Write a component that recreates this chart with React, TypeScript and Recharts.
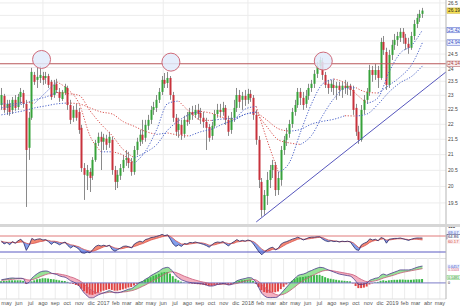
import {
  ComposedChart, Bar, Line, Area, XAxis, YAxis, CartesianGrid, ReferenceLine, ReferenceDot, Cell,
} from 'recharts'

// weekly candles [open, high, low, close], weeks of 2016-04-18 .. 2019-03-18
const candles: [number, number, number, number][] = [
  [22.66, 23.26, 22.49, 23.01], [22.98, 23.05, 22.39, 22.49], [22.56, 22.84, 22.32, 22.70], [22.70, 22.84, 22.29, 22.42],
  [22.49, 22.94, 22.35, 22.84], [22.84, 23.01, 22.46, 22.56], [22.59, 23.05, 22.49, 22.94], [22.94, 23.26, 22.70, 23.12],
  [23.08, 23.19, 22.56, 22.70], [22.70, 22.84, 19.38, 21.15], [21.22, 22.42, 20.83, 22.22], [22.22, 23.99, 22.15, 23.84],
  [23.73, 23.84, 23.37, 23.48], [23.55, 23.99, 23.26, 23.66], [23.62, 24.06, 23.44, 23.73], [23.69, 23.84, 23.37, 23.55],
  [23.62, 23.84, 23.41, 23.69], [23.69, 23.77, 23.26, 23.37], [23.48, 23.55, 22.84, 22.94], [23.01, 23.55, 22.91, 23.37],
  [23.41, 23.59, 23.08, 23.19], [23.12, 23.26, 22.77, 22.91], [22.87, 23.19, 22.80, 23.12], [23.08, 23.41, 23.01, 23.30],
  [23.26, 23.34, 22.49, 22.66], [22.66, 22.84, 22.01, 22.15], [22.22, 22.63, 22.08, 22.49], [22.49, 22.70, 22.12, 22.22],
  [22.42, 22.56, 21.68, 21.81], [21.88, 21.98, 20.45, 20.57], [20.57, 20.73, 19.59, 20.36], [20.33, 20.67, 19.89, 20.51],
  [20.45, 20.57, 19.83, 20.26], [20.33, 20.92, 20.20, 20.83], [20.83, 21.48, 20.77, 21.38], [21.38, 21.72, 21.28, 21.58],
  [21.58, 21.75, 20.51, 21.42], [21.42, 21.68, 21.15, 21.55], [21.52, 21.65, 21.15, 21.32], [21.38, 21.75, 21.22, 21.58],
  [21.48, 21.58, 20.36, 20.51], [20.51, 20.64, 19.89, 20.14], [20.14, 20.51, 19.95, 20.36], [20.33, 20.70, 20.20, 20.57],
  [20.57, 20.99, 20.45, 20.83], [20.83, 21.15, 20.64, 20.89], [20.89, 21.09, 20.57, 20.73], [20.77, 20.89, 20.33, 20.45],
  [20.45, 21.28, 20.36, 21.15], [21.15, 21.55, 20.99, 21.42], [21.42, 21.81, 21.28, 21.65], [21.65, 22.15, 21.35, 21.48],
  [21.55, 22.15, 21.42, 21.98], [21.95, 22.32, 21.81, 22.15], [22.15, 22.63, 22.01, 22.49], [22.49, 22.77, 22.32, 22.59],
  [22.56, 23.01, 22.42, 22.84], [22.84, 23.26, 22.73, 23.12], [23.12, 23.69, 23.01, 23.55], [23.55, 23.80, 23.26, 23.41],
  [23.44, 23.84, 23.26, 23.62], [23.62, 23.69, 22.84, 23.01], [23.01, 23.12, 22.08, 22.22], [22.22, 22.35, 21.61, 21.75],
  [21.81, 22.22, 21.55, 22.01], [21.98, 22.15, 21.48, 21.65], [21.68, 22.29, 21.55, 22.15], [22.15, 22.42, 21.95, 22.08],
  [22.15, 22.56, 22.01, 22.42], [22.42, 22.63, 22.15, 22.32], [22.32, 22.66, 22.22, 22.49], [22.49, 22.70, 22.15, 22.35],
  [22.39, 22.56, 22.01, 22.22], [22.22, 22.42, 21.88, 22.08], [22.08, 22.22, 21.15, 21.88], [21.91, 22.01, 21.42, 21.55],
  [21.61, 22.08, 21.48, 21.95], [21.95, 22.49, 21.88, 22.35], [22.35, 22.70, 22.22, 22.49], [22.49, 22.70, 22.22, 22.42],
  [22.42, 22.77, 22.29, 22.56], [22.56, 22.66, 21.98, 22.15], [22.15, 22.29, 21.61, 21.75], [21.81, 22.42, 21.68, 22.22],
  [22.22, 22.84, 22.08, 22.56], [22.56, 23.26, 22.42, 23.01], [23.01, 23.19, 22.56, 22.77], [22.84, 23.12, 22.49, 22.98],
  [22.98, 23.19, 22.63, 22.84], [22.84, 23.23, 22.70, 23.05], [23.05, 23.19, 22.77, 22.91], [22.91, 23.01, 22.15, 22.32],
  [22.32, 22.49, 21.32, 21.48], [21.48, 21.61, 19.95, 20.20], [20.14, 20.26, 19.09, 19.29], [19.29, 19.89, 19.15, 19.74],
  [19.71, 20.45, 19.44, 20.20], [20.20, 20.67, 19.95, 20.51], [20.51, 20.83, 20.26, 20.67], [20.67, 20.77, 19.71, 19.89],
  [19.89, 20.45, 19.74, 20.26], [20.20, 21.28, 20.02, 21.15], [21.15, 21.61, 20.99, 21.48], [21.48, 21.88, 21.28, 21.68],
  [21.68, 22.15, 21.55, 22.01], [22.01, 22.56, 21.88, 22.42], [22.42, 22.84, 22.29, 22.66], [22.66, 23.26, 22.56, 23.12],
  [23.12, 23.26, 22.66, 22.91], [22.91, 23.12, 22.49, 22.66], [22.70, 23.19, 22.56, 22.98], [22.98, 23.41, 22.84, 23.26],
  [23.26, 23.55, 23.12, 23.41], [23.41, 23.91, 23.26, 23.77], [23.77, 24.21, 23.62, 24.06], [24.06, 24.40, 23.91, 24.28],
  [24.21, 24.36, 23.55, 23.73], [23.73, 23.84, 23.26, 23.37], [23.41, 23.55, 23.05, 23.26], [23.26, 23.55, 23.12, 23.41],
  [23.37, 23.55, 23.01, 23.26], [23.26, 23.48, 22.84, 23.34], [23.34, 23.48, 22.98, 23.19], [23.19, 23.48, 22.91, 23.34],
  [23.34, 23.55, 23.05, 23.26], [23.26, 23.48, 23.01, 23.34], [23.34, 23.41, 22.98, 23.19], [23.19, 23.34, 22.32, 22.49],
  [22.56, 22.70, 21.61, 21.75], [21.75, 21.95, 21.35, 21.48], [21.48, 22.66, 21.42, 22.49], [22.49, 23.01, 22.35, 22.84],
  [22.84, 23.26, 22.70, 23.12], [23.12, 24.10, 22.98, 23.91], [23.91, 24.06, 23.48, 23.73], [23.73, 24.13, 23.55, 23.91],
  [23.91, 24.06, 23.26, 23.62], [23.62, 25.12, 23.55, 24.96], [24.96, 25.19, 24.47, 24.66], [24.58, 24.74, 23.19, 23.37],
  [23.37, 24.66, 23.26, 24.47], [24.47, 25.04, 24.28, 24.85], [24.85, 25.27, 24.66, 25.04], [25.04, 25.35, 24.81, 25.19],
  [25.12, 25.50, 24.96, 25.35], [25.35, 25.50, 24.89, 25.12], [25.12, 25.27, 24.66, 24.89], [24.89, 25.12, 24.51, 24.74],
  [24.74, 25.35, 24.66, 25.19], [25.19, 25.82, 25.04, 25.66], [25.66, 26.06, 25.50, 25.90], [25.90, 26.22, 25.74, 26.06],
  [26.06, 26.30, 25.90, 26.19],
]

// moving averages read every 4 weeks (week 0, 4, 8 ... 152)
const maFast = [
  22.70, 22.70, 22.77, 22.72, 23.10, 23.48, 23.21, 22.72, 21.61, 21.09, 21.09, 20.98, 20.72, 21.11, 21.81, 22.71,
  22.80, 22.42, 22.14, 22.13, 22.18, 22.20, 22.52, 22.61, 21.45, 20.44, 20.75, 21.74, 22.71, 23.41, 23.58, 23.44,
  23.05, 22.72, 22.92, 23.85, 24.54, 24.82, 25.42,
]
const maMid = [
  22.56, 22.63, 22.70, 22.84, 22.94, 23.10, 23.06, 23.00, 22.46, 22.00, 21.62, 21.16, 20.90, 21.07, 21.32, 21.80,
  22.12, 22.34, 22.44, 22.37, 22.23, 22.17, 22.34, 22.40, 21.90, 21.48, 21.38, 21.33, 21.63, 22.30, 22.88, 23.25,
  23.27, 23.11, 23.08, 23.36, 23.66, 24.09, 24.94,
]
const maSlow = [
  22.32, 22.39, 22.46, 22.56, 22.63, 22.70, 22.73, 22.70, 22.56, 22.42, 22.35, 22.09, 21.93, 21.76, 21.66, 21.71,
  21.64, 21.61, 21.75, 21.84, 22.01, 22.14, 22.34, 22.42, 22.13, 21.85, 21.77, 21.83, 22.01, 22.10, 22.17, 22.29,
  22.28, 22.35, 22.69, 23.12, 23.45, 23.67, 24.06,
]

const rsi = [
  58, 50, 54, 48, 56, 52, 58, 62, 54, 34, 46, 64, 60, 62, 63, 60, 61, 56,
  49, 55, 52, 48, 52, 55, 46, 40, 45, 42, 37, 28, 27, 30, 28, 36, 44, 47,
  45, 47, 44, 47, 36, 32, 36, 40, 44, 45, 43, 40, 50, 54, 57, 55, 61, 63,
  66, 67, 69, 71, 74, 71, 73, 62, 50, 44, 48, 44, 51, 50, 54, 53, 55, 53,
  51, 49, 46, 42, 48, 53, 55, 54, 56, 50, 45, 52, 56, 61, 57, 59, 57, 60,
  58, 50, 40, 30, 23, 30, 36, 40, 42, 35, 40, 50, 54, 56, 59, 62, 64, 67,
  64, 60, 63, 66, 67, 67, 68, 68, 62, 58, 56, 58, 56, 57, 55, 57, 56, 57,
  55, 45, 36, 34, 48, 52, 55, 63, 60, 62, 58, 66, 64, 52, 62, 63, 64, 64,
  65, 63, 61, 59, 62, 64, 65, 65, 64.86,
]
const rsiSignal = [
  55, 55, 54, 54, 54, 53, 54, 55, 55, 52, 50, 51, 52, 54, 56, 57, 59, 59,
  57, 57, 56, 54, 53, 53, 51, 48, 47, 45, 43, 39, 36, 34, 32, 32, 34, 37,
  40, 43, 45, 46, 43, 40, 39, 38, 39, 41, 42, 42, 44, 46, 49, 51, 54, 57,
  60, 62, 64, 66, 68, 70, 71, 69, 64, 58, 54, 50, 49, 49, 50, 51, 52, 53,
  53, 52, 50, 47, 47, 48, 50, 52, 53, 53, 51, 51, 52, 55, 56, 57, 57, 58,
  58, 56, 51, 44, 37, 33, 32, 34, 37, 37, 38, 42, 46, 50, 53, 56, 59, 62,
  63, 62, 62, 63, 64, 65, 66, 67, 66, 63, 60, 59, 58, 57, 56, 56, 56, 56,
  56, 53, 47, 41, 42, 45, 49, 54, 57, 59, 59, 62, 63, 60, 60, 61, 62, 63,
  63, 63, 62, 61, 61, 62, 62, 61, 60.17,
]

const macd = [
  0.12, 0.14, 0.16, 0.18, 0.19, 0.18, 0.18, 0.18, 0.16, -0.02, 0.02, 0.18, 0.28, 0.36, 0.42, 0.45, 0.46, 0.44,
  0.38, 0.35, 0.32, 0.27, 0.24, 0.22, 0.16, 0.08, 0.04, -0.02, -0.1, -0.26, -0.4, -0.5, -0.58, -0.58, -0.52, -0.46,
  -0.42, -0.38, -0.34, -0.3, -0.34, -0.38, -0.38, -0.36, -0.32, -0.28, -0.24, -0.22, -0.14, -0.06, 0.02, 0.06, 0.14, 0.2,
  0.28, 0.34, 0.4, 0.46, 0.54, 0.58, 0.6, 0.54, 0.42, 0.28, 0.2, 0.12, 0.08, 0.04, 0.02, 0, -0.01, -0.02,
  -0.03, -0.05, -0.08, -0.12, -0.12, -0.1, -0.06, -0.04, -0.02, -0.04, -0.08, -0.06, 0, 0.08, 0.12, 0.15, 0.17, 0.2,
  0.2, 0.14, 0, -0.2, -0.4, -0.5, -0.56, -0.57, -0.56, -0.56, -0.52, -0.4, -0.28, -0.16, -0.04, 0.08, 0.18, 0.28,
  0.32, 0.34, 0.38, 0.44, 0.48, 0.53, 0.57, 0.6, 0.59, 0.55, 0.5, 0.46, 0.42, 0.38, 0.34, 0.32, 0.3, 0.28,
  0.26, 0.18, 0.06, -0.06, -0.06, -0.04, 0, 0.1, 0.14, 0.18, 0.2, 0.3, 0.34, 0.3, 0.34, 0.38, 0.42, 0.46,
  0.5, 0.5, 0.5, 0.5, 0.52, 0.56, 0.6, 0.63, 0.65,
]
const macdSignal = [
  0.1, 0.11, 0.12, 0.13, 0.14, 0.15, 0.16, 0.16, 0.16, 0.13, 0.11, 0.12, 0.15, 0.19, 0.24, 0.28, 0.32, 0.35,
  0.36, 0.36, 0.36, 0.34, 0.32, 0.3, 0.27, 0.23, 0.2, 0.15, 0.1, 0.03, -0.06, -0.15, -0.24, -0.31, -0.36, -0.38,
  -0.39, -0.39, -0.38, -0.36, -0.36, -0.36, -0.36, -0.36, -0.35, -0.34, -0.32, -0.3, -0.27, -0.23, -0.18, -0.13, -0.08, -0.02,
  0.04, 0.1, 0.16, 0.22, 0.28, 0.34, 0.39, 0.42, 0.42, 0.4, 0.36, 0.31, 0.26, 0.22, 0.18, 0.14, 0.11, 0.08,
  0.05, 0.03, 0.01, -0.02, -0.04, -0.05, -0.06, -0.06, -0.05, -0.05, -0.05, -0.05, -0.04, -0.02, 0.01, 0.04, 0.07, 0.1,
  0.12, 0.13, 0.11, 0.04, -0.06, -0.16, -0.25, -0.33, -0.39, -0.44, -0.47, -0.46, -0.43, -0.38, -0.31, -0.23, -0.15, -0.06,
  0.02, 0.09, 0.15, 0.21, 0.27, 0.32, 0.37, 0.42, 0.46, 0.48, 0.49, 0.48, 0.46, 0.44, 0.42, 0.4, 0.38, 0.36,
  0.34, 0.31, 0.26, 0.19, 0.13, 0.08, 0.05, 0.05, 0.06, 0.08, 0.11, 0.15, 0.19, 0.22, 0.25, 0.28, 0.31, 0.35,
  0.38, 0.41, 0.43, 0.45, 0.47, 0.49, 0.51, 0.53, 0.55,
]
const macdHist = [
  0.06, 0.08, 0.08, 0.1, 0.1, 0.1, 0.1, 0.1, 0.08, -0.04, 0, 0.06, 0.1, 0.14, 0.16, 0.18, 0.18, 0.17,
  0.15, 0.14, 0.12, 0.1, 0.08, 0.07, 0.04, -0.02, -0.04, -0.08, -0.12, -0.22, -0.32, -0.4, -0.45, -0.46, -0.42, -0.38,
  -0.34, -0.3, -0.27, -0.24, -0.27, -0.3, -0.3, -0.28, -0.25, -0.22, -0.18, -0.16, -0.1, -0.04, 0.02, 0.06, 0.12, 0.17,
  0.22, 0.27, 0.31, 0.35, 0.4, 0.42, 0.42, 0.36, 0.26, 0.16, 0.1, 0.05, 0.02, 0, -0.02, -0.03, -0.04, -0.05,
  -0.06, -0.07, -0.09, -0.11, -0.11, -0.09, -0.07, -0.05, -0.04, -0.05, -0.07, -0.05, 0.02, 0.06, 0.08, 0.1, 0.11, 0.12,
  0.12, 0.08, -0.04, -0.16, -0.28, -0.35, -0.38, -0.38, -0.37, -0.36, -0.33, -0.24, -0.15, -0.06, 0.02, 0.08, 0.14, 0.2,
  0.22, 0.23, 0.25, 0.27, 0.29, 0.3, 0.31, 0.31, 0.27, 0.22, 0.18, 0.16, 0.14, 0.12, 0.1, 0.09, 0.08, 0.07,
  0.06, -0.02, -0.12, -0.2, -0.2, -0.18, -0.14, -0.06, -0.02, 0.02, 0.04, 0.08, 0.1, 0.08, 0.1, 0.11, 0.12, 0.12,
  0.13, 0.13, 0.12, 0.12, 0.12, 0.13, 0.14, 0.14, 0.15,
]

const monthLabels = [
  'may', 'jun', 'jul', 'ago', 'sep', 'oct', 'nov', 'dic', '2017', 'feb', 'mar', 'abr',
  'may', 'jun', 'jul', 'ago', 'sep', 'oct', 'nov', 'dic', '2018', 'feb', 'mar', 'abr',
  'may', 'jun', 'jul', 'ago', 'sep', 'oct', 'nov', 'dic', '2019', 'feb', 'mar', 'abr', 'may',
]
const priceTicks = [19.5, 20, 20.5, 21, 21.5, 22, 22.5, 23, 23.5, 24, 24.5, 25, 25.5, 26, 26.5]
// ticks whose text sits under a value tag in the reference
const hiddenTicks = [25, 25.5, 26]
const resistance = 24.14
// tops marked with circles: [week, price]
const peaks: [number, number][] = [[14.5, 24.3], [61.2, 24.2], [116.2, 24.24]]
// support line from the 2018 low: [week, price]
const trend: [number, number][] = [[92, 18.94], [160.5, 23.84]]

const priceTags = [
  { v: 26.19, fg: '#222', bg: '#f5df52', bd: '#c9b13c', dy: 0 },
  { v: 25.42, fg: '#3a52c4', bg: '#f2f5ff', bd: '#3a52c4', dy: 0 },
  { v: 24.94, fg: '#3a52c4', bg: '#f2f5ff', bd: '#3a52c4', dy: 0 },
  { v: resistance, fg: '#a84444', bg: '#fbeeee', bd: '#a84444', dy: 0 },
]
const rsiTags = [
  { v: 100, fg: '#222', bg: '', bd: '', dy: 3 },
  { v: 69.07, fg: '#3a52c4', bg: '#eef2ff', bd: '', dy: -3.9 },
  { v: 64.86, fg: '#22225e', bg: '#ffffff', bd: '#22225e', dy: -1.1 },
  { v: 60.17, fg: '#d04a4a', bg: '#fdeeee', bd: '', dy: 1.5 },
]
const macdTags = [
  { v: 0.6457, fg: '#3a52c4', bg: '#eef2ff', bd: '', dy: 0.3 },
  { v: 0.5503, fg: '#d04a6a', bg: '', bd: '', dy: 1.6 },
  { v: 0.1481, fg: '#2f8f2f', bg: '#e6f8e6', bd: '#7acc7a', dy: -1.5 },
  { v: 0, fg: '#222', bg: '', bd: '', dy: 0 },
]

const GREEN = '#37a23a'
const RED = '#c8323c'
const MA_UP = '#4a62c8'
const MA_DN = '#d9534f'
const GRID = '#ececec'
const X_DOMAIN: [number, number] = [-0.5, 160.5]
const AXIS_W = 14

const START = Date.UTC(2016, 3, 18)
const WEEK_MS = 7 * 864e5
const monthTicks = monthLabels.map((_, k) => (Date.UTC(2016, 4 + k, 1) - START) / WEEK_MS)

const pair = (a: number, b: number) => (a >= b ? [b, a] : [b, b])

const rows = candles.map(([o, h, l, c], i) => ({
  i, o, h, l, c,
  range: [l, h],
  fast: i % 4 === 0 ? maFast[i / 4] : null,
  mid: i % 4 === 0 ? maMid[i / 4] : null,
  slow: i % 4 === 0 ? maSlow[i / 4] : null,
  rsi: rsi[i],
  rsiSig: rsiSignal[i],
  rsiUp: pair(rsi[i], rsiSignal[i]),
  rsiDn: rsi[i] < rsiSignal[i] ? [rsi[i], rsiSignal[i]] : [rsiSignal[i], rsiSignal[i]],
  macd: macd[i],
  sig: macdSignal[i],
  hist: macdHist[i],
  mUp: pair(macd[i], macdSignal[i]),
  mDn: macd[i] < macdSignal[i] ? [macd[i], macdSignal[i]] : [macdSignal[i], macdSignal[i]],
}))

// split each average into rising (blue) / falling (red) stretches
type Run = { key: 'fast' | 'mid' | 'slow'; a: number; b: number; up: boolean }
function runsOf(key: Run['key'], vals: number[]): Run[] {
  const out: Run[] = []
  for (let k = 0; k < vals.length - 1; k++) {
    const up = vals[k + 1] >= vals[k]
    const last = out[out.length - 1]
    if (last && last.up === up) last.b = (k + 1) * 4
    else out.push({ key, a: k * 4, b: (k + 1) * 4, up })
  }
  return out
}
const maRuns = [...runsOf('slow', maSlow), ...runsOf('mid', maMid), ...runsOf('fast', maFast)]

function Candle(props: any) {
  const { x, y, width, height, payload } = props
  if (!payload || !Number.isFinite(y) || !Number.isFinite(height)) return null
  const top = Math.min(y, y + height)
  const bot = Math.max(y, y + height)
  const span = Math.log(payload.h) - Math.log(payload.l)
  const at = (v: number) => (span > 0 ? top + ((bot - top) * (Math.log(payload.h) - Math.log(v))) / span : top)
  const cx = Math.round(x + width / 2)
  const y1 = at(Math.max(payload.o, payload.c))
  const y2 = at(Math.min(payload.o, payload.c))
  return (
    <g>
      <line x1={cx + 0.5} x2={cx + 0.5} y1={top} y2={bot} stroke="#8a8a8a" strokeWidth={1} />
      <rect x={cx - 0.5} y={y1} width={2} height={Math.max(1, y2 - y1)} fill={payload.c >= payload.o ? GREEN : RED} />
    </g>
  )
}

type Tag = { v: number; fg: string; bg: string; bd: string; dy: number }
function makeTick(tags: Tag[], digits: number, size: number) {
  return function TickLabel({ x, y, payload }: any) {
    const v = payload.value
    const t = tags.find((g) => g.v === v)
    if (!t) {
      if (hiddenTicks.includes(v)) return <g />
      return <text x={x} y={y + (v === 24 ? 1.5 : 0)} dy="0.35em" fontSize={5} fill="#444">{v}</text>
    }
    const yy = y + t.dy
    const txt = v === 0 || v === 100 ? String(v) : v.toFixed(digits)
    return (
      <g>
        {t.bg && <rect x={x - 1} y={yy - size / 2 - 0.3} width={14} height={size + 0.6} fill={t.bg} stroke={t.bd || 'none'} strokeWidth={0.5} />}
        <text x={x} y={yy} dy="0.35em" fontSize={size} fontWeight={v === 100 ? 700 : 400} fill={t.fg}>{txt}</text>
      </g>
    )
  }
}
const PriceTick = makeTick(priceTags, 2, 4.8)
const RsiTick = makeTick(rsiTags, 2, 4.2)
const MacdTick = makeTick(macdTags, 4, 3.6)

const monthName = (v: number) => {
  const k = monthTicks.findIndex((t) => Math.abs(t - v) < 1e-6)
  return k >= 0 ? monthLabels[k] : ''
}

const margin = { top: 0, right: 0, bottom: 0, left: 0 }

export default function App() {
  return (
    <div style={{ position: 'absolute', left: 0, top: 0, width: 460, height: 308, background: '#fff', fontFamily: '"Liberation Sans", Arial, sans-serif', overflow: 'hidden' }}>
      <div style={{ position: 'absolute', left: 0, top: 0 }}>
        <ComposedChart width={460} height={224} data={rows} margin={margin}>
          <CartesianGrid stroke={GRID} verticalValues={monthTicks} horizontalValues={priceTicks} />
          <XAxis type="number" dataKey="i" domain={X_DOMAIN} hide />
          <YAxis
            orientation="right" scale="log" domain={[18.88, 26.62]} allowDataOverflow width={AXIS_W}
            ticks={[...priceTicks, ...priceTags.map((t) => t.v)]} interval={0}
            tick={(p: any) => <PriceTick {...p} />} tickLine={false} tickSize={0} tickMargin={2}
            axisLine={{ stroke: '#b5b5b5' }}
          />
          <ReferenceLine y={resistance} stroke="#b9575a" strokeWidth={1} />
          <ReferenceLine
            segment={[{ x: trend[0][0], y: trend[0][1] }, { x: trend[1][0], y: trend[1][1] }]}
            stroke="#5656bd" strokeWidth={1} ifOverflow="visible"
          />
          {maRuns.map((r, k) => (
            <Line
              key={`ma-${k}`} type="monotone" connectNulls dot={false} activeDot={false}
              dataKey={(d: any) => (d.i >= r.a && d.i <= r.b ? d[r.key] : null)}
              stroke={r.up ? MA_UP : MA_DN} strokeWidth={1} strokeDasharray="1.2 1.6"
              isAnimationActive={false}
            />
          ))}
          <Bar dataKey="range" barSize={2} shape={Candle} isAnimationActive={false} />
          {peaks.map(([i, p], k) => (
            <ReferenceDot key={`pk-${k}`} x={i} y={p} r={9} fill="#e2ebfb" fillOpacity={0.85} stroke="#cf6b7a" strokeWidth={1} />
          ))}
        </ComposedChart>
      </div>

      <div style={{ position: 'absolute', left: 0, top: 224 }}>
        <ComposedChart width={460} height={34} data={rows} margin={margin}>
          <CartesianGrid stroke={GRID} verticalValues={monthTicks} horizontal={false} />
          <XAxis type="number" dataKey="i" domain={X_DOMAIN} hide />
          <YAxis
            orientation="right" domain={[15, 100]} allowDataOverflow width={AXIS_W}
            ticks={rsiTags.map((t) => t.v)} interval={0}
            tick={(p: any) => <RsiTick {...p} />} tickLine={false} tickSize={0} tickMargin={2}
            axisLine={{ stroke: '#b5b5b5' }}
          />
          <ReferenceLine y={70} stroke="#e07a7a" strokeWidth={1} />
          <ReferenceLine y={30} stroke="#5a5ac2" strokeWidth={1} />
          <Area type="linear" dataKey="rsiUp" fill="#f0745a" fillOpacity={0.85} stroke="none" isAnimationActive={false} />
          <Area type="linear" dataKey="rsiDn" fill="#6d8ee8" fillOpacity={0.85} stroke="none" isAnimationActive={false} />
          <Line type="linear" dataKey="rsiSig" stroke="#d9534f" strokeWidth={0.8} dot={false} isAnimationActive={false} />
          <Line type="linear" dataKey="rsi" stroke="#2a2a6a" strokeWidth={0.8} dot={false} isAnimationActive={false} />
        </ComposedChart>
      </div>

      <div style={{ position: 'absolute', left: 0, top: 224, width: 460, height: 3, background: '#d6d6d6' }} />
      <div style={{ position: 'absolute', left: 0, top: 258, width: 446, height: 1, background: '#e2e2e2' }} />

      <div style={{ position: 'absolute', left: 0, top: 258 }}>
        <ComposedChart width={460} height={50} data={rows} margin={margin}>
          <CartesianGrid stroke={GRID} verticalValues={monthTicks} horizontal={false} />
          <XAxis
            type="number" dataKey="i" domain={X_DOMAIN} ticks={monthTicks} interval={0} height={9}
            tickFormatter={monthName} tick={{ fontSize: 5.5, fill: '#555' }} tickLine={false} tickSize={0} tickMargin={2}
            axisLine={{ stroke: '#dddddd' }}
          />
          <YAxis
            orientation="right" domain={[-0.62, 0.96]} allowDataOverflow width={AXIS_W}
            ticks={macdTags.map((t) => t.v)} interval={0}
            tick={(p: any) => <MacdTick {...p} />} tickLine={false} tickSize={0} tickMargin={2}
            axisLine={{ stroke: '#b5b5b5' }}
          />
          <ReferenceLine y={0} stroke="#7b7bc8" strokeWidth={1} />
          <Bar dataKey="hist" barSize={2} isAnimationActive={false}>
            {rows.map((r, k) => (
              <Cell key={`h-${k}`} fill={r.hist >= 0 ? '#3cb84a' : '#e04444'} />
            ))}
          </Bar>
          <Area type="monotone" dataKey="mUp" fill="#86dd86" fillOpacity={0.85} stroke="none" isAnimationActive={false} />
          <Area type="monotone" dataKey="mDn" fill="#f2a3b6" fillOpacity={0.85} stroke="none" isAnimationActive={false} />
          <Line type="monotone" dataKey="sig" stroke="#c95a7a" strokeWidth={0.8} dot={false} isAnimationActive={false} />
          <Line type="monotone" dataKey="macd" stroke="#4a3c8c" strokeWidth={0.8} dot={false} isAnimationActive={false} />
        </ComposedChart>
      </div>
    </div>
  )
}
